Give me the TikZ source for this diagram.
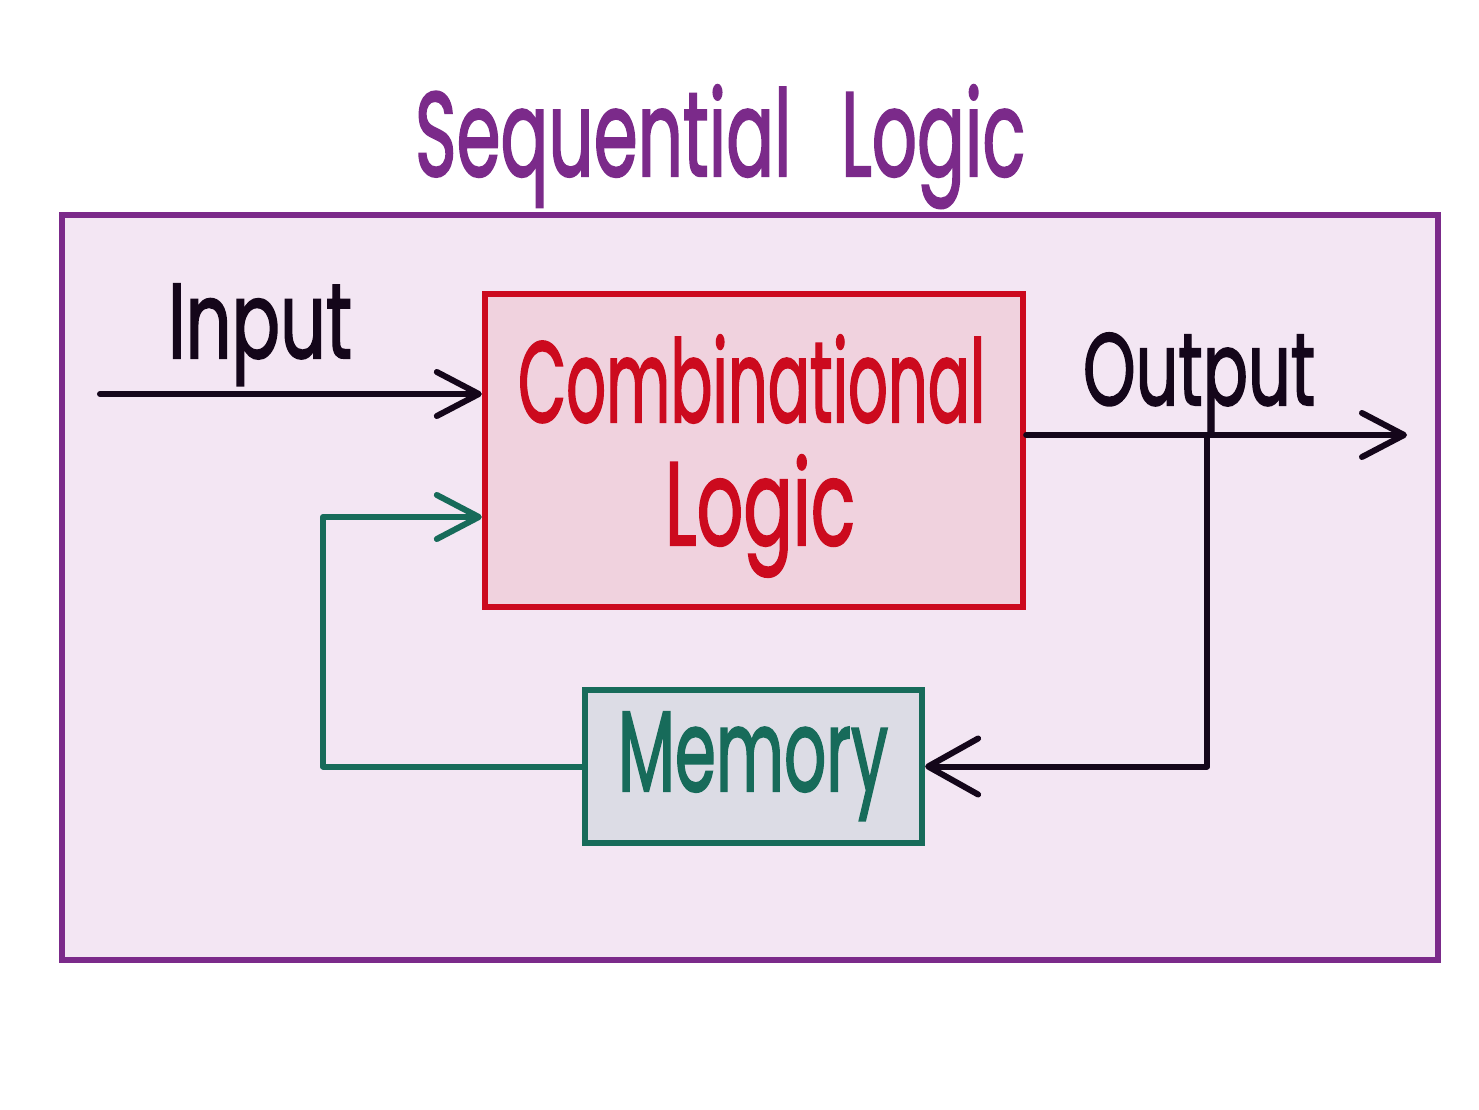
\documentclass[tikz,border=0pt]{standalone}
\usepackage{fontspec}
\setmainfont{Poppins}
\newfontfamily\hwfont{Poppins}[FakeBold=2]
\usepackage{graphicx}
\usetikzlibrary{arrows.meta}
\definecolor{cpurple}{HTML}{7B2A8A}
\definecolor{cframefill}{HTML}{F3E6F3}
\definecolor{cred}{HTML}{CC0A1E}
\definecolor{credfill}{HTML}{F0D2DE}
\definecolor{cgreen}{HTML}{176B5A}
\definecolor{cgreenfill}{HTML}{DCDCE5}
\definecolor{cink}{HTML}{14061A}
\newcommand{\hwtext}[3]{\resizebox{#1}{#2}{\hwfont #3}}
\tikzset{
  boxstyle/.style={draw, rectangle, line width=0.06cm, inner sep=0pt},
  txt/.style={anchor=base west, inner sep=0pt, outer sep=0pt},
  conn/.style={line width=0.06cm, line cap=round, line join=round},
  barb/.style={-{Straight Barb[length=0.42cm,width=0.44cm,round]}},
  bigbarb/.style={-{Straight Barb[length=0.5cm,width=0.56cm,round]}},
}
\begin{document}
\begin{tikzpicture}[x=0.01cm,y=-0.01cm]
\useasboundingbox[fill=white] (0,0) rectangle (1479,1110);
% outer frame
\node[boxstyle, draw=cpurple, fill=cframefill, minimum width=13.76cm, minimum height=7.45cm] (frame) at (750,587.5) {};
% title
\node[txt, text=cpurple] (title) at (415,176) {\hwtext{6.10cm}{0.91cm}{Sequential\hspace{0.7em}Logic}};
% combinational box
\node[boxstyle, draw=cred, fill=credfill, minimum width=5.38cm, minimum height=3.13cm] (comb) at (754,450.5) {};
\node[txt, text=cred] (combA) at (518,422) {\hwtext{4.67cm}{0.87cm}{Combinational}};
\node[txt, text=cred] (combB) at (665,545) {\hwtext{1.90cm}{0.90cm}{Logic}};
% memory box
\node[boxstyle, draw=cgreen, fill=cgreenfill, minimum width=3.37cm, minimum height=1.53cm] (mem) at (753.5,766.5) {};
\node[txt, text=cgreen] (memT) at (618,791) {\hwtext{2.70cm}{0.79cm}{Memory}};
% labels
\node[txt, text=cink] (inT) at (168,358) {\hwtext{1.84cm}{0.74cm}{Input}};
\node[txt, text=cink] (outT) at (1083,405) {\hwtext{2.32cm}{0.72cm}{Output}};
% coordinates
\coordinate (inS) at (100,394);
\coordinate (outE) at (1407,435);
\coordinate (tap) at (1207,435);
\coordinate (fbk) at (323,517);
% connectors
\draw[conn, barb, draw=cink] (inS) -- (inS -| comb.west);
\draw[conn, barb, draw=cink] (comb.east |- outE) -- (outE);
\draw[conn, bigbarb, draw=cink] (tap) |- (mem.east);
\draw[conn, barb, draw=cgreen] (mem.west) -| (fbk) -- (fbk -| comb.west);
\end{tikzpicture}
\end{document}
